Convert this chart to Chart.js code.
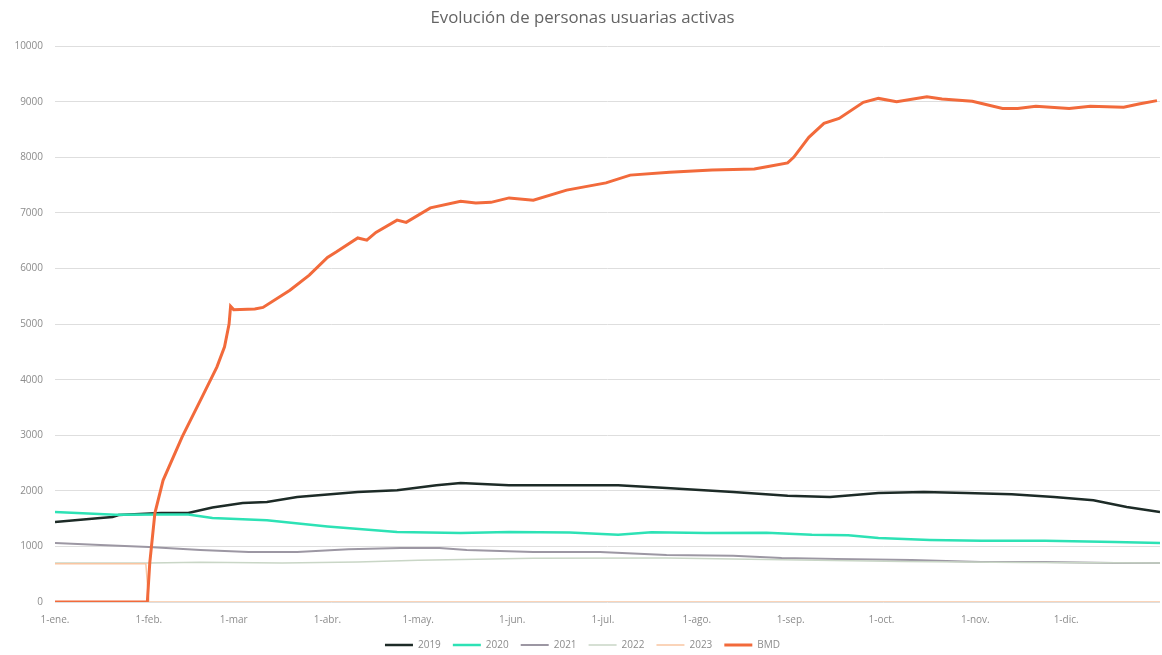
<!DOCTYPE html>
<html>
<head>
<meta charset="utf-8">
<script src="https://cdn.jsdelivr.net/npm/chart.js@4"></script>
<style>
  html, body { margin: 0; padding: 0; background: #fff; }
  #wrap { width: 1162px; height: 655px; }
</style>
</head>
<body>
<div id="wrap"><canvas id="myChart"></canvas></div>
<script>
// x = day of the year (1-ene. = 0)
var monthStarts = [0, 31, 59, 90, 120, 151, 181, 212, 243, 273, 304, 334];
var monthLabels = ["1-ene.", "1-feb.", "1-mar", "1-abr.", "1-may.", "1-jun.", "1-jul.", "1-ago.", "1-sep.", "1-oct.", "1-nov.", "1-dic."];

var days2019 = [0, 15, 19, 21, 35, 44, 52, 62, 70, 80, 100, 113, 126, 134, 150, 186, 202, 224, 242, 256, 272, 287, 301, 316, 330, 343, 354, 365];
var vals2019 = [1440, 1510, 1530, 1565, 1600, 1600, 1700, 1780, 1800, 1890, 1980, 2010, 2100, 2140, 2100, 2100, 2050, 1980, 1910, 1890, 1960, 1980, 1960, 1940, 1890, 1830, 1710, 1620];

var days2020 = [0, 20, 35, 44, 52, 70, 90, 113, 134, 150, 170, 186, 197, 215, 235, 250, 262, 272, 289, 306, 327, 350, 365];
var vals2020 = [1620, 1570, 1575, 1575, 1510, 1470, 1360, 1260, 1240, 1260, 1250, 1210, 1255, 1240, 1245, 1210, 1200, 1150, 1115, 1100, 1100, 1080, 1060];

var days2021 = [0, 15, 31, 48, 64, 80, 97, 114, 127, 136, 158, 180, 202, 224, 240, 258, 283, 306, 327, 350, 365];
var vals2021 = [1060, 1025, 990, 935, 900, 900, 950, 970, 970, 935, 900, 900, 845, 830, 790, 775, 755, 720, 720, 700, 700];

var days2022 = [0, 31, 48, 75, 100, 120, 158, 202, 246, 280, 320, 365];
var vals2022 = [700, 700, 715, 700, 720, 750, 785, 790, 755, 730, 710, 700];

var days2023 = [0, 30, 31, 365];
var vals2023 = [690, 690, 0, 0];

var daysBMD = [0, 30.5, 31.3, 33, 35.7, 42, 48.6, 53.5, 56, 57.5, 58, 59, 66, 68.7, 77.6, 84, 90, 93, 100, 103, 106, 113, 116, 124, 134, 139, 144, 150, 158, 169, 182, 190, 203, 217, 231, 236, 242, 244, 249, 254, 259, 267, 272, 278, 288, 293, 303, 313, 318, 324, 335, 342, 353, 358, 364];
var valsBMD = [0, 0, 700, 1600, 2190, 2970, 3690, 4230, 4590, 5000, 5320, 5260, 5270, 5300, 5610, 5880, 6200, 6300, 6550, 6510, 6650, 6870, 6830, 7090, 7210, 7180, 7190, 7270, 7230, 7410, 7540, 7680, 7730, 7770, 7790, 7840, 7900, 8000, 8360, 8610, 8700, 8990, 9060, 9000, 9090, 9050, 9010, 8880, 8880, 8920, 8880, 8920, 8900, 8960, 9020];

function pts(days, vals) {
  return days.map(function (d, i) { return { x: d, y: vals[i] }; });
}

function line(label, days, vals, color, width, order) {
  return {
    label: label,
    data: pts(days, vals),
    borderColor: color,
    backgroundColor: color,
    borderWidth: width,
    pointRadius: 0,
    tension: 0,
    order: order
  };
}

Chart.defaults.font.family = "'Open Sans', sans-serif";

new Chart("myChart", {
  type: "line",
  data: {
    datasets: [
      line("2019", days2019, vals2019, "#1d2b27", 2.5, 5),
      line("2020", days2020, vals2020, "#2de2b5", 2.5, 4),
      line("2021", days2021, vals2021, "#9c97a3", 2, 3),
      line("2022", days2022, vals2022, "#c9d6c6", 1.5, 2),
      line("2023", days2023, vals2023, "#f9c6a2", 1.5, 1),
      line("BMD", daysBMD, valsBMD, "#f26a3b", 3, 0)
    ]
  },
  options: {
    animation: false,
    responsive: true,
    maintainAspectRatio: false,
    layout: { padding: { left: 5, right: 2, top: 0, bottom: 0 } },
    plugins: {
      title: {
        display: true,
        text: "Evolución de personas usuarias activas",
        color: "#646464",
        font: { size: 16.8, weight: "normal" },
        padding: { top: 8, bottom: 18 }
      },
      legend: {
        position: "bottom",
        maxHeight: 27,
        labels: {
          usePointStyle: true,
          pointStyle: "line",
          pointStyleWidth: 28,
          padding: 12,
          color: "#8c8c8c",
          font: { size: 10 },
          sort: function (a, b) { return a.datasetIndex - b.datasetIndex; }
        }
      },
      tooltip: { enabled: false }
    },
    scales: {
      x: {
        type: "linear",
        min: 0,
        max: 365,
        grid: { display: false, drawTicks: false },
        border: { display: false },
        afterBuildTicks: function (scale) {
          scale.ticks = monthStarts.map(function (v) { return { value: v }; });
        },
        afterFit: function (scale) { scale.height = 26; },
        ticks: {
          autoSkip: false,
          maxRotation: 0,
          padding: 12,
          color: "#8c8c8c",
          font: { size: 10 },
          callback: function (v) { return monthLabels[monthStarts.indexOf(v)]; }
        }
      },
      y: {
        min: 0,
        max: 10000,
        grid: { color: "#dedede", drawTicks: false },
        border: { display: false },
        afterFit: function (scale) { scale.width = 50; },
        ticks: {
          stepSize: 1000,
          padding: 12,
          color: "#8c8c8c",
          font: { size: 10 },
          callback: function (v) { return String(v); }
        }
      }
    }
  }
});
</script>
</body>
</html>
